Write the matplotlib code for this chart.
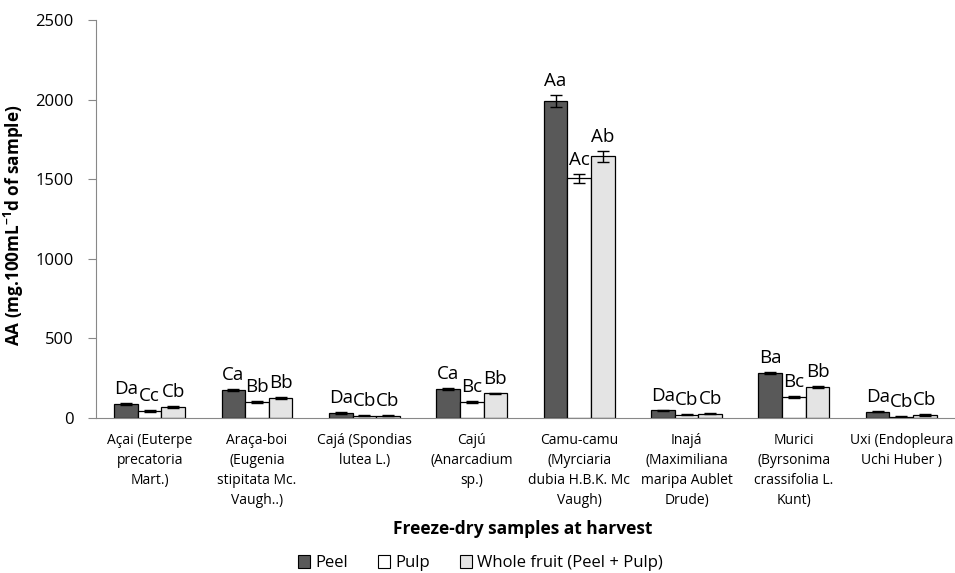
import numpy as np
import matplotlib.pyplot as plt
from matplotlib.patches import Patch

plt.rcParams['font.family'] = ['Open Sans', 'DejaVu Sans']
plt.rcParams['mathtext.default'] = 'regular'

# data
fruits = ['Açai (Euterpe\nprecatoria\nMart.)',
          'Araça-boi\n(Eugenia\nstipitata Mc.\nVaugh..)',
          'Cajá (Spondias\nlutea L.)',
          'Cajú\n(Anarcadium\nsp.)',
          'Camu-camu\n(Myrciaria\ndubia H.B.K. Mc\nVaugh)',
          'Inajá\n(Maximiliana\nmaripa Aublet\nDrude)',
          'Murici\n(Byrsonima\ncrassifolia L.\nKunt)',
          'Uxi (Endopleura\nUchi Huber )']

peel = [88, 176, 31, 182, 1990, 48, 281, 40]
pulp = [44, 100, 15, 102, 1505, 21, 134, 8]
whole = [69, 126, 14, 155, 1645, 27, 193, 19]

peel_err = [6, 6, 5, 6, 38, 4, 6, 3]
pulp_err = [6, 6, 4, 5, 28, 3, 6, 2]
whole_err = [6, 6, 4, 5, 35, 3, 7, 4]

peel_lbl = ['Da', 'Ca', 'Da', 'Ca', 'Aa', 'Da', 'Ba', 'Da']
pulp_lbl = ['Cc', 'Bb', 'Cb', 'Bc', 'Ac', 'Cb', 'Bc', 'Cb']
whole_lbl = ['Cb', 'Bb', 'Cb', 'Bb', 'Ab', 'Cb', 'Bb', 'Cb']

series = [
    ('Peel', peel, peel_err, peel_lbl, '#595959'),
    ('Pulp', pulp, pulp_err, pulp_lbl, '#ffffff'),
    ('Whole fruit (Peel + Pulp)', whole, whole_err, whole_lbl, '#e4e4e4'),
]

fig = plt.figure(figsize=(9.55, 5.73), dpi=100)
ax = fig.add_axes([0.1005, 0.2705, 0.8995, 0.6945])

x = np.arange(len(fruits))
w = 0.22
for i, (name, vals, errs, lbls, col) in enumerate(series):
    pos = x + (i - 1) * w
    ax.bar(pos, vals, w, color=col, edgecolor='black', linewidth=0.9,
           yerr=errs, capsize=4, error_kw=dict(elinewidth=1, capthick=1, ecolor='black'))
    # letters of the Tukey test above each bar
    for p, v, e, t in zip(pos, vals, errs, lbls):
        ax.annotate(t, (p, v + e), xytext=(0, 14), textcoords='offset pixels',
                    ha='center', va='center', fontsize=13.5)

ax.set_xlim(-0.5, len(fruits) - 0.5)
ax.set_ylim(0, 2500)
ax.set_yticks(range(0, 2501, 500))
ax.set_xticks(x)
ax.set_xticklabels(fruits, fontsize=10, linespacing=1.45)
ax.tick_params(axis='x', length=0, pad=11)
ax.tick_params(axis='y', labelsize=12, length=6, color='#888888', pad=10)

for s in ['top', 'right']:
    ax.spines[s].set_visible(False)
for s in ['left', 'bottom']:
    ax.spines[s].set_color('#888888')

ax.set_ylabel(r'AA (mg.100mL$^{-1}$d of sample)', fontsize=12.3, fontweight='bold')
ax.yaxis.set_label_coords(-0.081, 0.485)
ax.set_xlabel('Freeze-dry samples at harvest', fontsize=12.5, fontweight='bold')
ax.xaxis.set_label_coords(0.497, -0.256)

handles = [Patch(facecolor=c, edgecolor='black', linewidth=0.8, label=n) for n, _, _, _, c in series]
fig.legend(handles=handles, loc='center', bbox_to_anchor=(0.503, 0.017), ncol=3, frameon=False,
           fontsize=12, handlelength=0.75, handleheight=0.75, handletextpad=0.3, columnspacing=1.8,
           borderaxespad=0, borderpad=0)

fig.savefig('out.png', dpi=100)
